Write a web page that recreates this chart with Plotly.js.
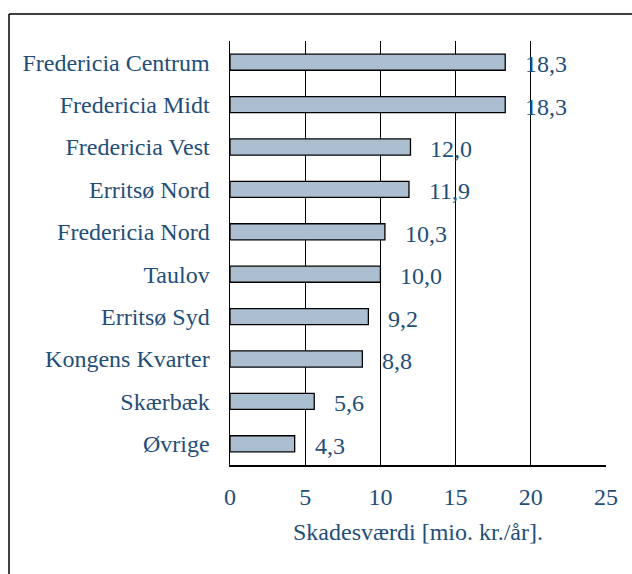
<!DOCTYPE html>
<html><head><meta charset="utf-8">
<script src="https://cdn.plot.ly/plotly-3.0.1.min.js"></script>
<style>html,body{margin:0;padding:0;background:#fff;}</style>
</head><body>
<div id="chart" style="width:632px;height:574px;"></div>
<script>
const categories = ["Fredericia Centrum","Fredericia Midt","Fredericia Vest","Erritsø Nord","Fredericia Nord","Taulov","Erritsø Syd","Kongens Kvarter","Skærbæk","Øvrige"];
const values = [18.3, 18.3, 12.0, 11.9, 10.3, 10.0, 9.2, 8.8, 5.6, 4.3];
const labels = ["18,3","18,3","12,0","11,9","10,3","10,0","9,2","8,8","5,6","4,3"];
const xTicks = [0,5,10,15,20,25];
const xTitle = "Skadesværdi [mio. kr./år].";

const txt = '#1f4e79';
const font = {family: 'Liberation Serif', size: 24, color: txt};

const trace = {
  type: 'bar', orientation: 'h',
  y: categories, x: values,
  marker: {color: '#acbfd0', line: {color: '#000', width: 1.3}},
  width: 0.38, hoverinfo: 'none'
};

const annotations = categories.map((c, i) => ({
  x: values[i], y: c, xref: 'x', yref: 'y', text: labels[i],
  showarrow: false, xanchor: 'left', xshift: 18, yshift: -2,
  font: {family: 'Liberation Serif', size: 24, color: txt}
}));

const W = 376, H = 424;
const px = p => (p - 230) / W;
const py = p => 1 - (p - 41) / H;

const shapes = [
  {type:'line', xref:'paper', yref:'paper', x0: px(9), x1: px(9), y0: py(14), y1: py(600), line:{color:'#000', width:1.5}},
  {type:'line', xref:'paper', yref:'paper', x0: px(9), x1: px(640), y0: py(14), y1: py(14), line:{color:'#000', width:1.5}}
];

const layout = {
  width: 632, height: 574,
  margin: {l: 230, r: 26, t: 41, b: 109},
  paper_bgcolor: '#fff', plot_bgcolor: '#fff',
  font: {family: 'Liberation Serif', size: 24, color: txt}, showlegend: false,
  xaxis: {
    range: [0, 25], tickvals: xTicks, ticktext: xTicks.map(String),
    showgrid: true, gridcolor: '#000', gridwidth: 1.2,
    zeroline: false, showline: true, linecolor: '#000', linewidth: 1.5,
    ticks: '', ticklabelstandoff: 10, tickfont: {family: 'Liberation Serif', size: 24, color: txt},
    title: {text: xTitle, font: {family: 'Liberation Serif', size: 24, color: txt}, standoff: 14}, fixedrange: true
  },
  yaxis: {
    categoryorder: 'array', categoryarray: categories.slice().reverse(),
    autorange: false, range: [-0.5, 9.5],
    showgrid: false, zeroline: false, showline: true, linecolor: '#000', linewidth: 1.5,
    ticks: '', ticklabelstandoff: 14, tickfont: {family: 'Liberation Serif', size: 24, color: txt}, fixedrange: true
  },
  annotations: annotations, shapes: shapes
};

Plotly.newPlot('chart', [trace], layout, {staticPlot: true, displayModeBar: false});
</script>
</body></html>
